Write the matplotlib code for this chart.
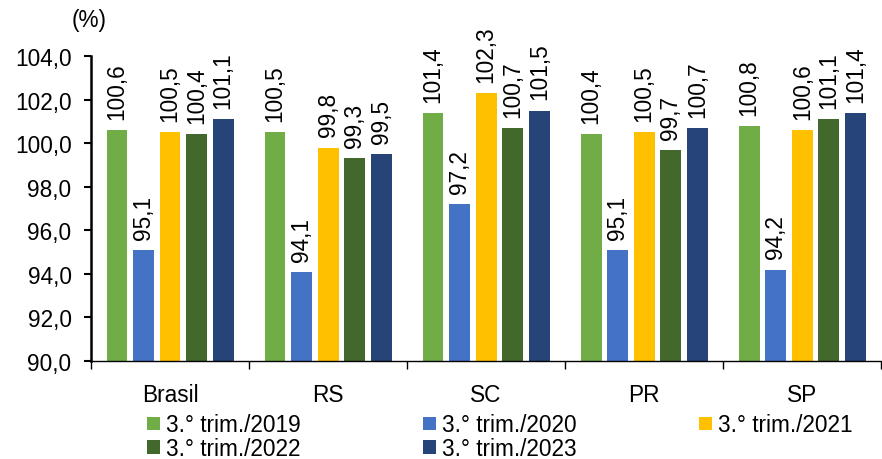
import matplotlib.pyplot as plt
import numpy as np

plt.rcParams['font.family'] = ['Liberation Sans', 'DejaVu Sans']

categorias = ["Brasil", "RS", "SC", "PR", "SP"]
series = ["3.° trim./2019", "3.° trim./2020", "3.° trim./2021",
          "3.° trim./2022", "3.° trim./2023"]
t2019 = [100.6, 100.5, 101.4, 100.4, 100.8]
t2020 = [95.1, 94.1, 97.2, 95.1, 94.2]
t2021 = [100.5, 99.8, 102.3, 100.5, 100.6]
t2022 = [100.4, 99.3, 100.7, 99.7, 101.1]
t2023 = [101.1, 99.5, 101.5, 100.7, 101.4]
valores = [t2019, t2020, t2021, t2022, t2023]
cores = ["#70AD47", "#4472C4", "#FFC000", "#43682B", "#264478"]

fs = 16.3
fig = plt.figure(figsize=(8.82, 4.6), dpi=100)
ax = fig.add_axes([0.1032, 0.213, 0.896, 0.663])

x = np.arange(len(categorias))
passo = 0.168
largura = 0.132
handles = []
for i, (v, c) in enumerate(zip(valores, cores)):
    pos = x + (i - 2) * passo
    b = ax.bar(pos, np.array(v) - 90, bottom=90, width=largura, color=c,
               label=series[i])
    handles.append(b)
    for px, val in zip(pos, v):
        ax.annotate(f"{val:.1f}".replace(".", ","), (px, val),
                    xytext=(0, 8), textcoords="offset points",
                    rotation=90, ha="center", va="bottom", fontsize=fs)

ax.set_ylim(90, 104)
ax.set_xlim(-0.5, 4.5)
yt = np.arange(90, 104.1, 2)
ax.set_yticks(yt)
ax.set_yticklabels([f"{t:.1f}".replace(".", ",") for t in yt], fontsize=fs)
ax.set_xticks(np.arange(-0.5, 5, 1))
ax.set_xticklabels([])
ax.set_xticks(x, minor=True)
ax.set_xticklabels(categorias, minor=True, fontsize=fs)
ax.tick_params(axis="x", which="major", length=6, width=1, direction="out")
ax.tick_params(axis="x", which="minor", length=0, pad=16)
ax.tick_params(axis="y", length=5, width=1.5, direction="out", pad=9)
for s in ["top", "right"]:
    ax.spines[s].set_visible(False)
ax.spines["left"].set_linewidth(1.8)
ax.spines["bottom"].set_linewidth(1)

fig.text(0.081, 0.955, "(%)", fontsize=fs, ha="left", va="center")

ordem = [0, 3, 1, 4, 2]
fig.legend([handles[i] for i in ordem], [series[i] for i in ordem],
           loc="upper left", bbox_to_anchor=(0.167, 0.099), ncol=3,
           frameon=False, fontsize=fs, handlelength=0.55, handleheight=0.55,
           handletextpad=0.27, columnspacing=5.42, labelspacing=0.02,
           borderpad=0, borderaxespad=0)

fig.savefig("out.png", dpi=100)
